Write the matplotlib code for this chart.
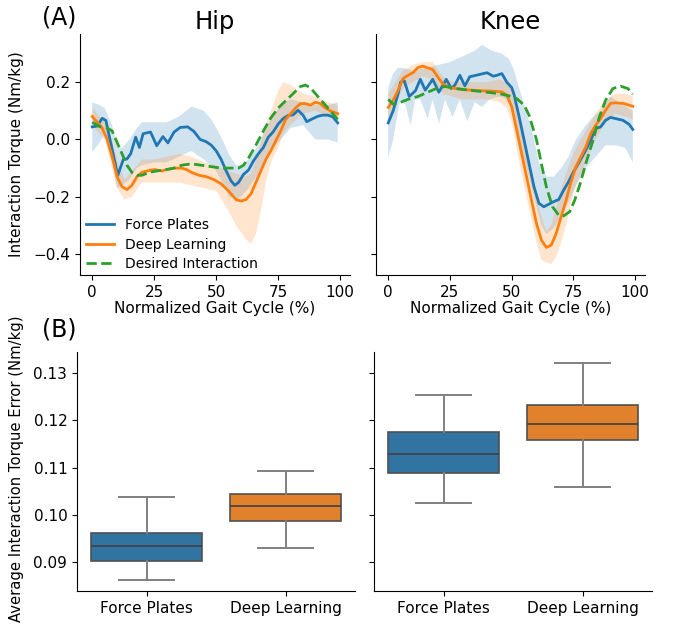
import matplotlib
matplotlib.use("Agg")
import matplotlib.pyplot as plt
import numpy as np

# ---------------- data: Hip ----------------
hip_fp_x = [0, 2, 4, 5.5, 8, 10.3, 12.5, 14, 15.5, 17.5, 19, 20.5, 23.5, 26, 28.5, 30.5, 33, 35.5,
            38.5, 41, 43.5, 46, 48, 50, 52, 54, 56, 57.5, 59, 61, 63, 65, 67, 69, 71, 73, 75, 77,
            79, 81, 83, 85, 86.5, 89, 91, 93, 95, 97, 99]
hip_fp_y = [0.044, 0.047, 0.074, 0.066, -0.035, -0.125, -0.07, -0.068, -0.05, 0.008, -0.028, 0.02,
            0.026, -0.022, 0.01, -0.012, 0.026, 0.042, 0.044, 0.028, 0.0, -0.008, -0.02, -0.04,
            -0.07, -0.11, -0.145, -0.16, -0.15, -0.122, -0.107, -0.075, -0.05, -0.028, 0.008,
            0.027, 0.054, 0.073, 0.084, 0.086, 0.102, 0.085, 0.062, 0.073, 0.081, 0.085, 0.085,
            0.079, 0.058]
hip_fp_band_x = [0, 3, 5, 8, 10, 12, 15, 18, 20, 25, 30, 35, 40, 45, 48, 50, 53, 55, 58, 60, 63,
                 67, 70, 73, 75, 78, 80, 85, 90, 95, 99]
hip_fp_upper = [0.13, 0.12, 0.11, 0.05, -0.02, -0.03, 0.0, 0.04, 0.06, 0.06, 0.06, 0.08, 0.115,
                0.1, 0.07, 0.04, -0.01, -0.05, -0.09, -0.09, -0.07, -0.02, 0.04, 0.08, 0.11, 0.13,
                0.14, 0.13, 0.12, 0.12, 0.13]
hip_fp_lower = [-0.045, -0.01, 0.02, -0.07, -0.17, -0.16, -0.14, -0.1, -0.09, -0.08, -0.08, -0.06,
                -0.04, -0.07, -0.09, -0.11, -0.16, -0.2, -0.21, -0.2, -0.17, -0.12, -0.07, -0.03,
                -0.01, 0.02, 0.04, 0.05, 0.0, 0.0, -0.01]

hip_dl_x = [0, 2, 4, 6, 8, 10, 12, 14, 16, 18, 20, 22, 25, 28, 30, 33, 36, 38, 40, 43, 46, 49,
            52, 55, 58, 60, 62, 64, 66, 68, 70, 72, 74, 76, 78, 80, 82, 84, 86, 88, 90, 92, 94,
            96, 99]
hip_dl_y = [0.08, 0.06, 0.04, 0.0, -0.06, -0.13, -0.165, -0.175, -0.16, -0.13, -0.115, -0.11,
            -0.105, -0.11, -0.105, -0.1, -0.1, -0.105, -0.115, -0.125, -0.13, -0.14, -0.155,
            -0.18, -0.21, -0.215, -0.21, -0.19, -0.15, -0.11, -0.07, -0.04, -0.005, 0.03, 0.07,
            0.09, 0.11, 0.125, 0.125, 0.12, 0.13, 0.125, 0.11, 0.1, 0.09]
hip_dl_band_x = [0, 5, 8, 10, 13, 16, 20, 25, 30, 35, 40, 45, 50, 55, 58, 62, 64, 66, 68, 70, 72,
                 75, 77, 80, 85, 90, 95, 99]
hip_dl_upper = [0.11, 0.06, 0.0, -0.07, -0.14, -0.11, -0.07, -0.07, -0.06, -0.05, -0.06, -0.08,
                -0.09, -0.11, -0.12, -0.13, -0.12, -0.07, -0.01, 0.05, 0.1, 0.17, 0.2, 0.19, 0.16,
                0.15, 0.13, 0.12]
hip_dl_lower = [0.05, 0.0, -0.1, -0.17, -0.21, -0.2, -0.15, -0.15, -0.15, -0.15, -0.16, -0.17,
                -0.18, -0.25, -0.3, -0.35, -0.365, -0.33, -0.25, -0.15, -0.08, -0.03, 0.02, 0.05,
                0.09, 0.1, 0.08, 0.07]

hip_des_x = [0, 3, 6, 8, 10, 12, 14, 16, 18, 20, 23, 26, 30, 33, 36, 40, 44, 48, 52, 56, 59, 61,
             63, 66, 69, 72, 75, 78, 81, 84, 86, 88, 90, 93, 96, 99]
hip_des_y = [0.06, 0.045, 0.04, 0.03, -0.01, -0.05, -0.09, -0.115, -0.125, -0.125, -0.115, -0.11,
             -0.105, -0.1, -0.09, -0.085, -0.09, -0.095, -0.1, -0.1, -0.1, -0.09, -0.065, -0.02,
             0.03, 0.075, 0.11, 0.135, 0.16, 0.185, 0.19, 0.18, 0.16, 0.13, 0.1, 0.07]

# ---------------- data: Knee ----------------
knee_fp_x = [0, 2, 4, 5, 6.5, 8.5, 11, 13, 15, 18, 20.5, 23.5, 25.5, 27, 29, 31, 33, 35.5, 37.5,
             40, 42.5, 44, 46, 48, 50, 51, 53, 55, 57, 59, 61, 63, 65, 67, 69, 71, 73, 75, 77,
             80, 82, 84, 86, 88, 90, 92, 95, 97.5, 99]
knee_fp_y = [0.058, 0.10, 0.16, 0.2, 0.205, 0.15, 0.17, 0.21, 0.172, 0.21, 0.165, 0.21, 0.178,
             0.19, 0.224, 0.187, 0.219, 0.224, 0.228, 0.233, 0.221, 0.224, 0.23, 0.2, 0.181,
             0.155, 0.079, -0.002, -0.084, -0.165, -0.223, -0.235, -0.226, -0.217, -0.21, -0.177,
             -0.148, -0.113, -0.084, -0.037, -0.002, 0.038, 0.044, 0.067, 0.077, 0.073, 0.067,
             0.053, 0.035]
knee_fp_upper_x = [0, 2, 4, 6, 10, 15, 20, 25, 30, 35, 38, 42, 46, 49, 51, 53, 55, 58, 61, 64,
                   67, 70, 73, 76, 80, 83, 86, 90, 95, 99]
knee_fp_upper = [0.18, 0.23, 0.25, 0.25, 0.24, 0.25, 0.26, 0.27, 0.29, 0.31, 0.33, 0.31, 0.3,
                 0.28, 0.24, 0.18, 0.12, 0.04, -0.08, -0.13, -0.13, -0.1, -0.06, 0.0, 0.05, 0.08,
                 0.1, 0.15, 0.12, 0.1]
knee_fp_lower_x = [0, 2, 4, 5, 7, 9, 11, 13, 16, 18, 20.5, 23, 26, 29, 32, 35, 38, 41, 45, 48,
                   50, 53, 56, 59, 62, 64, 67, 70, 73, 76, 80, 84, 88, 92, 96, 99]
knee_fp_lower = [-0.065, 0.0, 0.1, 0.14, 0.12, 0.049, 0.14, 0.14, 0.072, 0.14, 0.055, 0.14,
                 0.078, 0.14, 0.063, 0.13, 0.113, 0.14, 0.15, 0.14, 0.1, 0.0, -0.1, -0.2, -0.3,
                 -0.33, -0.31, -0.27, -0.22, -0.16, -0.1, -0.06, -0.02, -0.02, -0.03, -0.08]

knee_dl_x = [0, 2, 4, 6, 8, 10, 12, 14, 16, 18, 20, 22, 24, 27, 30, 34, 38, 42, 46, 48, 50, 52,
             54, 56, 58, 60, 62, 64, 66, 68, 70, 72, 74, 76, 78, 80, 82, 84, 86, 88, 90, 92, 95,
             99]
knee_dl_y = [0.112, 0.137, 0.172, 0.213, 0.224, 0.233, 0.251, 0.256, 0.25, 0.244, 0.219, 0.195,
             0.184, 0.178, 0.174, 0.172, 0.17, 0.169, 0.166, 0.155, 0.114, 0.033, -0.049, -0.13,
             -0.212, -0.293, -0.351, -0.377, -0.369, -0.328, -0.27, -0.212, -0.148, -0.095,
             -0.06, -0.026, 0.021, 0.05, 0.073, 0.102, 0.126, 0.128, 0.126, 0.116]
knee_dl_band_x = [0, 3, 6, 10, 14, 18, 22, 26, 30, 35, 40, 45, 48, 50, 52, 54, 56, 58, 60, 62,
                  64, 66, 68, 70, 72, 74, 76, 78, 80, 84, 88, 92, 96, 99]
knee_dl_upper = [0.16, 0.2, 0.24, 0.26, 0.27, 0.27, 0.22, 0.2, 0.2, 0.2, 0.2, 0.21, 0.2, 0.17,
                 0.12, 0.05, -0.04, -0.12, -0.2, -0.27, -0.32, -0.3, -0.24, -0.17, -0.12, -0.07,
                 -0.03, 0.0, 0.03, 0.09, 0.14, 0.16, 0.16, 0.15]
knee_dl_lower = [0.07, 0.12, 0.18, 0.2, 0.22, 0.21, 0.16, 0.15, 0.14, 0.14, 0.14, 0.13, 0.11,
                 0.06, -0.03, -0.12, -0.2, -0.28, -0.36, -0.42, -0.43, -0.435, -0.41, -0.36, -0.3,
                 -0.22, -0.16, -0.12, -0.08, 0.0, 0.06, 0.09, 0.08, 0.07]

knee_des_x = [0, 2, 5, 8, 12, 16, 20, 23, 26, 30, 35, 40, 45, 50, 52, 55, 57, 60, 62, 64, 66.5,
              69, 71, 73.5, 75.5, 77.5, 80, 83, 85.5, 88, 91, 94, 97, 99]
knee_des_y = [0.14, 0.123, 0.13, 0.14, 0.15, 0.165, 0.18, 0.185, 0.18, 0.175, 0.17, 0.165, 0.16,
              0.15, 0.143, 0.12, 0.085, 0.0, -0.084, -0.165, -0.235, -0.264, -0.267, -0.252,
              -0.212, -0.16, -0.084, 0.0, 0.079, 0.137, 0.178, 0.186, 0.178, 0.158]

# ---------------- data: boxplots [whislo, q1, median, q3, whishi] ----------------
box_labels = ["Force Plates", "Deep Learning"]
hip_err_fp = [0.0862, 0.0903, 0.0935, 0.0962, 0.1039]
hip_err_dl = [0.0931, 0.0987, 0.1019, 0.1044, 0.1093]
knee_err_fp = [0.1025, 0.1088, 0.1129, 0.1176, 0.1253]
knee_err_dl = [0.1059, 0.1158, 0.1192, 0.1232, 0.1322]

C_FP = "#1f77b4"
C_DL = "#ff7f0e"
C_DES = "#2ca02c"
BOX_FP = "#3274a1"
BOX_DL = "#e1812c"
FS = 11

plt.rcParams["font.family"] = ["DejaVu Sans"]
fig = plt.figure(figsize=(6.73, 6.36), dpi=100)
W, H = 673, 636


def add_ax(l, r, t, b, **kw):
    return fig.add_axes([l / W, 1 - b / H, (r - l) / W, (b - t) / H], **kw)


ax_hip = add_ax(80, 350, 34, 275)
ax_knee = add_ax(376, 645, 34, 275, sharey=ax_hip)
ax_bh = add_ax(77, 355, 352, 591)
ax_bk = add_ax(374, 652, 352, 591, sharey=ax_bh)


def band(ax, ux, uy, lx, ly, color):
    ax.fill(np.r_[ux, lx[::-1]], np.r_[uy, ly[::-1]], color=color, alpha=0.2, lw=0)


def line_panel(ax, fp, fpb, dl, dlb, des, title):
    band(ax, *fpb, C_FP)
    band(ax, *dlb, C_DL)
    ax.plot(fp[0], fp[1], color=C_FP, lw=2, label="Force Plates")
    ax.plot(dl[0], dl[1], color=C_DL, lw=2, label="Deep Learning")
    ax.plot(des[0], des[1], color=C_DES, lw=2, ls=(0, (3.7, 1.6)), label="Desired Interaction")
    ax.set_title(title, fontsize=17.5, pad=1.5)
    ax.set_xticks([0, 25, 50, 75, 100])
    ax.set_xlabel("Normalized Gait Cycle (%)", fontsize=FS, labelpad=1)
    for s in ("top", "right"):
        ax.spines[s].set_visible(False)
    ax.tick_params(labelsize=FS)


line_panel(ax_hip,
           (hip_fp_x, hip_fp_y),
           (np.array(hip_fp_band_x), np.array(hip_fp_upper), np.array(hip_fp_band_x), np.array(hip_fp_lower)),
           (hip_dl_x, hip_dl_y),
           (np.array(hip_dl_band_x), np.array(hip_dl_upper), np.array(hip_dl_band_x), np.array(hip_dl_lower)),
           (hip_des_x, hip_des_y), "Hip")
line_panel(ax_knee,
           (knee_fp_x, knee_fp_y),
           (np.array(knee_fp_upper_x), np.array(knee_fp_upper), np.array(knee_fp_lower_x), np.array(knee_fp_lower)),
           (knee_dl_x, knee_dl_y),
           (np.array(knee_dl_band_x), np.array(knee_dl_upper), np.array(knee_dl_band_x), np.array(knee_dl_lower)),
           (knee_des_x, knee_des_y), "Knee")
ax_hip.set_yticks([-0.4, -0.2, 0.0, 0.2])
ax_hip.set_ylabel("Interaction Torque (Nm/kg)", fontsize=FS)
ax_hip.yaxis.set_label_coords((24 - 80) / 270, 0.5)
ax_knee.tick_params(labelleft=False)
ax_hip.legend(loc="lower left", frameon=False, fontsize=10, borderaxespad=0.05,
              handlelength=2.0, labelspacing=0.4, bbox_to_anchor=(0.0, -0.01))


def box_panel(ax, fp, dl):
    stats = []
    for vals, lab in zip((fp, dl), box_labels):
        stats.append(dict(whislo=vals[0], q1=vals[1], med=vals[2], q3=vals[3], whishi=vals[4],
                          fliers=[], label=lab))
    bp = ax.bxp(stats, positions=[0, 1], widths=0.8, patch_artist=True, showfliers=False,
                capwidths=0.4,
                boxprops=dict(edgecolor="#505050", linewidth=1.2),
                medianprops=dict(color="#404040", linewidth=1.2),
                whiskerprops=dict(color="#808080", linewidth=1.4),
                capprops=dict(color="#808080", linewidth=1.4))
    for patch, c in zip(bp["boxes"], (BOX_FP, BOX_DL)):
        patch.set_facecolor(c)
    ax.set_xlim(-0.5, 1.5)
    for s in ("top", "right"):
        ax.spines[s].set_visible(False)
    ax.tick_params(labelsize=FS)


box_panel(ax_bh, hip_err_fp, hip_err_dl)
box_panel(ax_bk, knee_err_fp, knee_err_dl)
ax_bh.set_yticks([0.09, 0.10, 0.11, 0.12, 0.13])
ax_bh.set_ylabel("Average Interaction Torque Error (Nm/kg)", fontsize=10.6)
ax_bh.yaxis.set_label_coords((24 - 77) / 278, 0.51)
ax_bk.tick_params(labelleft=False)

fig.text(42 / W, 1 - 17 / H, "(A)", fontsize=17, va="center", ha="left")
fig.text(42 / W, 1 - 329 / H, "(B)", fontsize=17, va="center", ha="left")

fig.savefig("out.png", dpi=100)
